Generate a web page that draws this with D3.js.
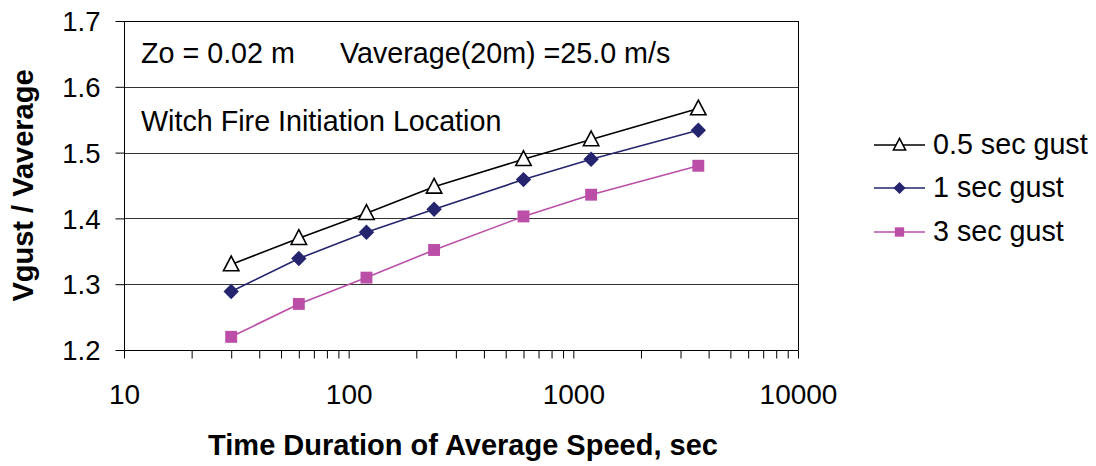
<!DOCTYPE html>
<html>
<head>
<meta charset="utf-8">
<script src="https://cdn.jsdelivr.net/npm/d3@7"></script>
<style>
  body { margin: 0; background: #fff; }
  svg { display: block; font-family: Arial, "Liberation Sans", sans-serif; }
</style>
</head>
<body>
<svg id="chart" width="1096" height="466"></svg>
<script>
// Data
const durations = [30, 60, 120, 240, 600, 1200, 3600];
const gust05 = [1.33, 1.37, 1.408, 1.448, 1.49, 1.52, 1.567];
const gust1 = [1.289, 1.339, 1.379, 1.414, 1.459, 1.49, 1.534];
const gust3 = [1.22, 1.27, 1.31, 1.352, 1.403, 1.436, 1.48];
const seriesNames = ["0.5 sec gust", "1 sec gust", "3 sec gust"];
const xTickLabels = [10, 100, 1000, 10000];
const yTickLabels = [1.2, 1.3, 1.4, 1.5, 1.6, 1.7];
const annotation1a = "Zo = 0.02 m";
const annotation1b = "Vaverage(20m) =25.0 m/s";
const annotation2 = "Witch Fire Initiation Location";
const xTitle = "Time Duration of Average Speed, sec";
const yTitle = "Vgust / Vaverage";

const svg = d3.select("#chart");
const pLeft = 124, pRight = 798, pTop = 21, pBottom = 350;

const x = d3.scaleLog().domain([10, 10000]).range([pLeft, pRight]);
const y = d3.scaleLinear().domain([1.2, 1.7]).range([pBottom, pTop]);

// gridlines
svg.append("g").selectAll("line")
  .data(yTickLabels.filter(v => v > 1.2 && v < 1.7))
  .join("line")
  .attr("x1", pLeft).attr("x2", pRight)
  .attr("y1", d => Math.round(y(d)) + 0.5).attr("y2", d => Math.round(y(d)) + 0.5)
  .attr("stroke", "#333").attr("stroke-width", 1);

// frame (top & right)
svg.append("line").attr("x1", pLeft).attr("x2", pRight + 0.5)
  .attr("y1", pTop + 0.5).attr("y2", pTop + 0.5).attr("stroke", "#000");
svg.append("line").attr("x1", pRight + 0.5).attr("x2", pRight + 0.5)
  .attr("y1", pTop).attr("y2", pBottom).attr("stroke", "#000");

// x axis
const minorTicks = [];
for (let d = 10; d < 10000; d *= 10) for (let k = 1; k < 10; k++) minorTicks.push(d * k);
minorTicks.push(10000);
const xAxis = d3.axisBottom(x).tickValues(minorTicks)
  .tickSize(8).tickFormat(d => xTickLabels.includes(d) ? d : "");
const gx = svg.append("g").attr("transform", `translate(0,${pBottom + 0.5})`).call(xAxis);
gx.select(".domain").attr("stroke", "#000").attr("d", `M${pLeft},0H${pRight + 0.5}`);
gx.selectAll(".tick line").attr("stroke", "#000");
gx.selectAll(".tick text").attr("font-size", 28).attr("fill", "#000")
  .attr("font-family", "Arial, 'Liberation Sans', sans-serif").attr("dy", null).attr("y", 53);

// y axis
const yAxis = d3.axisLeft(y).tickValues(yTickLabels).tickSize(9).tickFormat(d3.format(".1f"));
const gy = svg.append("g").attr("transform", `translate(${pLeft + 0.5},0)`).call(yAxis);
gy.select(".domain").attr("stroke", "#000").attr("d", `M0,${pTop}V${pBottom + 0.5}`);
gy.selectAll(".tick line").attr("stroke", "#000");
gy.selectAll(".tick text").attr("font-size", 27.5).attr("fill", "#000")
  .attr("font-family", "Arial, 'Liberation Sans', sans-serif").attr("x", -24).attr("dy", "0.35em");

// series
const series = [
  { name: seriesNames[0], values: gust05, color: "#000000", marker: "triangle" },
  { name: seriesNames[1], values: gust1, color: "#24246f", marker: "diamond" },
  { name: seriesNames[2], values: gust3, color: "#bb4fa8", marker: "square" }
];

const line = d3.line().x(d => x(d[0])).y(d => y(d[1]));

function drawMarker(g, type, color, size) {
  if (type === "triangle") {
    const s = size;
    g.append("path").attr("d", `M0,${-s * 0.6}L${s * 0.55},${s * 0.45}L${-s * 0.55},${s * 0.45}Z`)
      .attr("fill", "#fff").attr("stroke", color).attr("stroke-width", 1.6);
  } else if (type === "diamond") {
    const s = size * 0.55;
    g.append("path").attr("d", `M0,${-s}L${s},0L0,${s}L${-s},0Z`).attr("fill", color);
  } else {
    const s = size * 0.85;
    g.append("rect").attr("x", -s / 2).attr("y", -s / 2).attr("width", s).attr("height", s).attr("fill", color);
  }
}

series.forEach(s => {
  const pts = durations.map((d, i) => [d, s.values[i]]);
  svg.append("path").datum(pts).attr("d", line)
    .attr("fill", "none").attr("stroke", s.color).attr("stroke-width", 1.6);
  pts.forEach(p => {
    const g = svg.append("g").attr("transform", `translate(${x(p[0])},${y(p[1])})`);
    drawMarker(g, s.marker, s.color, 14);
  });
});

// annotations
svg.append("text").attr("x", 141).attr("y", 63).attr("font-size", 28.7).text(annotation1a);
svg.append("text").attr("x", 340).attr("y", 63).attr("font-size", 28.7).text(annotation1b);
svg.append("text").attr("x", 141).attr("y", 131).attr("font-size", 28.7).text(annotation2);

// legend
const legendY = [145, 188, 232];
series.forEach((s, i) => {
  const gy0 = legendY[i];
  svg.append("line").attr("x1", 874).attr("x2", 925).attr("y1", gy0).attr("y2", gy0)
    .attr("stroke", s.color).attr("stroke-width", 1.6);
  const g = svg.append("g").attr("transform", `translate(899.5,${gy0})`);
  drawMarker(g, s.marker, s.color, 11);
  svg.append("text").attr("x", 933).attr("y", gy0 + 9).attr("font-size", 28.7).text(s.name);
});

// axis titles
svg.append("text").attr("x", 463).attr("y", 455)
  .attr("text-anchor", "middle").attr("font-size", 29).attr("font-weight", "bold").text(xTitle);
svg.append("text").attr("transform", `translate(33,${(pTop + pBottom) / 2}) rotate(-90)`)
  .attr("text-anchor", "middle").attr("font-size", 29).attr("font-weight", "bold").text(yTitle);
</script>
</body>
</html>
